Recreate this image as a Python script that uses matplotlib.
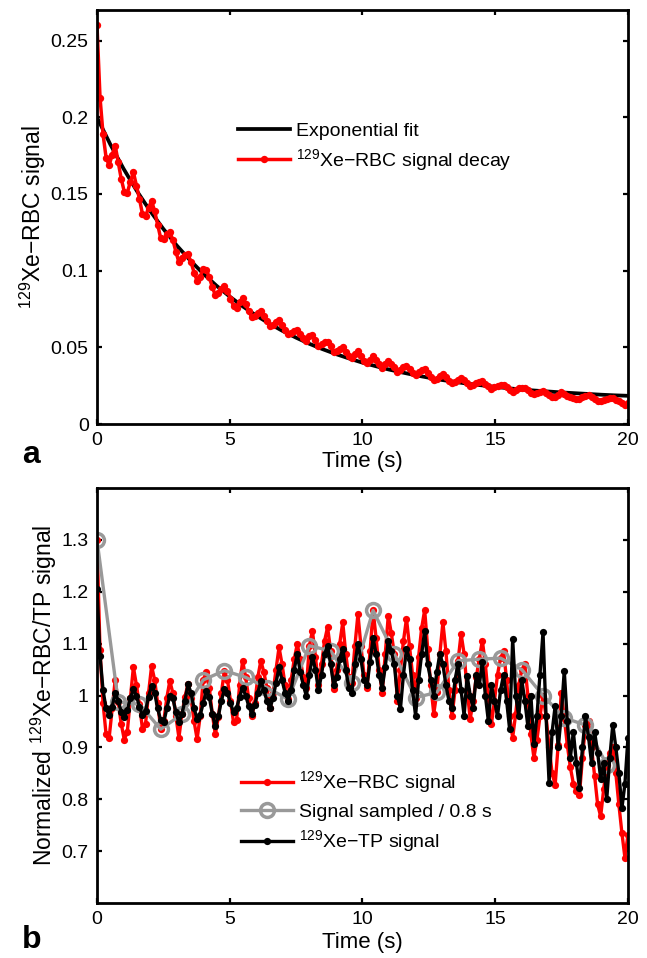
import numpy as np
import matplotlib
matplotlib.use("Agg")
import matplotlib.pyplot as plt

plt.rcParams['font.family'] = ['Liberation Sans', 'DejaVu Sans']
plt.rcParams['mathtext.fontset'] = 'custom'
plt.rcParams['mathtext.rm'] = 'Liberation Sans'
plt.rcParams['mathtext.it'] = 'Liberation Sans:italic'
plt.rcParams['mathtext.bf'] = 'Liberation Sans:bold'

# ---- data ----
# samples every 0.8/7 s (the grey curve keeps every 7th one -> 0.8 s)
dt = 0.8 / 7
n_samples = 176

# panel a: raw 129Xe-RBC signal
rbc_signal = [
    0.2600, 0.2129, 0.1889, 0.1737, 0.1688, 0.1755, 0.1816,
    0.1706, 0.1598, 0.1515, 0.1508, 0.1581, 0.1642, 0.1555,
    0.1468, 0.1368, 0.1354, 0.1411, 0.1454, 0.1389, 0.1301,
    0.1211, 0.1205, 0.1237, 0.1253, 0.1201, 0.1124, 0.1055,
    0.1085, 0.1101, 0.1106, 0.1055, 0.0988, 0.0934, 0.0960,
    0.1011, 0.1006, 0.0958, 0.0894, 0.0840, 0.0854, 0.0879,
    0.0900, 0.0868, 0.0818, 0.0769, 0.0758, 0.0798, 0.0819,
    0.0780, 0.0736, 0.0698, 0.0703, 0.0725, 0.0735, 0.0707,
    0.0674, 0.0636, 0.0645, 0.0662, 0.0677, 0.0645, 0.0610,
    0.0584, 0.0596, 0.0609, 0.0615, 0.0589, 0.0560, 0.0540,
    0.0574, 0.0579, 0.0545, 0.0509, 0.0520, 0.0534, 0.0538,
    0.0509, 0.0467, 0.0477, 0.0492, 0.0503, 0.0469, 0.0442,
    0.0432, 0.0455, 0.0473, 0.0442, 0.0413, 0.0398, 0.0419,
    0.0444, 0.0417, 0.0389, 0.0368, 0.0390, 0.0411, 0.0394,
    0.0375, 0.0339, 0.0355, 0.0369, 0.0378, 0.0357, 0.0335,
    0.0317, 0.0338, 0.0351, 0.0357, 0.0330, 0.0306, 0.0286,
    0.0295, 0.0313, 0.0327, 0.0308, 0.0283, 0.0266, 0.0277,
    0.0290, 0.0301, 0.0288, 0.0266, 0.0249, 0.0256, 0.0265,
    0.0272, 0.0278, 0.0264, 0.0246, 0.0231, 0.0240, 0.0250,
    0.0256, 0.0257, 0.0242, 0.0223, 0.0212, 0.0221, 0.0232,
    0.0237, 0.0237, 0.0222, 0.0204, 0.0193, 0.0199, 0.0207,
    0.0214, 0.0204, 0.0190, 0.0179, 0.0173, 0.0188, 0.0207,
    0.0196, 0.0184, 0.0174, 0.0167, 0.0163, 0.0161, 0.0174,
    0.0185, 0.0186, 0.0175, 0.0164, 0.0152, 0.0147, 0.0156,
    0.0165, 0.0168, 0.0169, 0.0159, 0.0147, 0.0136, 0.0127,
    0.0135,
]

fit_time = [0.0, 0.5, 1.0, 1.5, 2.0, 2.5, 3.0, 3.5, 4.0, 4.5, 5.0, 5.5, 6.0, 6.5,
            7.0, 7.5, 8.0, 8.5, 9.0, 9.5, 10.0, 10.5, 11.0, 11.5, 12.0, 12.5,
            13.0, 13.5, 14.0, 14.5, 15.0, 15.5, 16.0, 16.5, 17.0, 17.5, 18.0,
            18.5, 19.0, 19.5, 20.0]
fit_values = [0.2000, 0.1824, 0.1665, 0.1520, 0.1390, 0.1272, 0.1165, 0.1069,
              0.0981, 0.0902, 0.0831, 0.0766, 0.0707, 0.0654, 0.0606, 0.0563,
              0.0523, 0.0488, 0.0456, 0.0427, 0.0400, 0.0377, 0.0355, 0.0336,
              0.0318, 0.0302, 0.0287, 0.0274, 0.0262, 0.0252, 0.0242, 0.0233,
              0.0225, 0.0218, 0.0212, 0.0206, 0.0201, 0.0196, 0.0191, 0.0187,
              0.0184]

# panel b: normalized signals
rbc_norm = [
    1.300, 1.087, 0.985, 0.925, 0.918, 0.975, 1.030,
    0.988, 0.945, 0.915, 0.930, 0.995, 1.055, 1.020,
    0.983, 0.935, 0.945, 1.005, 1.057, 1.030, 0.985,
    0.935, 0.950, 0.995, 1.028, 1.005, 0.960, 0.919,
    0.964, 0.998, 1.022, 0.995, 0.950, 0.916, 0.960,
    1.030, 1.045, 1.015, 0.965, 0.925, 0.958, 1.005,
    1.048, 1.030, 0.990, 0.948, 0.952, 1.020, 1.067,
    1.035, 0.995, 0.960, 0.985, 1.035, 1.067, 1.045,
    1.015, 0.975, 1.005, 1.050, 1.093, 1.060, 1.020,
    0.993, 1.030, 1.070, 1.099, 1.070, 1.035, 1.015,
    1.096, 1.125, 1.075, 1.020, 1.060, 1.105, 1.132,
    1.086, 1.012, 1.050, 1.100, 1.141, 1.080, 1.035,
    1.025, 1.095, 1.157, 1.095, 1.040, 1.015, 1.085,
    1.164, 1.110, 1.050, 1.005, 1.080, 1.154, 1.120,
    1.080, 0.990, 1.050, 1.105, 1.148, 1.095, 1.040,
    0.996, 1.075, 1.130, 1.165, 1.090, 1.020, 0.965,
    1.006, 1.080, 1.141, 1.085, 1.010, 0.960, 1.010,
    1.067, 1.119, 1.080, 1.010, 0.955, 0.990, 1.035,
    1.070, 1.106, 1.060, 0.995, 0.945, 0.990, 1.040,
    1.072, 1.085, 1.030, 0.960, 0.919, 0.965, 1.020,
    1.050, 1.060, 1.000, 0.925, 0.880, 0.915, 0.960,
    1.000, 0.960, 0.900, 0.850, 0.828, 0.905, 1.005,
    0.957, 0.905, 0.862, 0.830, 0.815, 0.809, 0.880,
    0.943, 0.950, 0.900, 0.845, 0.790, 0.767, 0.820,
    0.867, 0.890, 0.900, 0.850, 0.790, 0.735, 0.687,
    0.732,
]

sampled_norm = [1.300, 0.988, 0.983, 0.935, 0.964, 1.030, 1.048, 1.035, 1.015,
                0.993, 1.096, 1.086, 1.025, 1.164, 1.080, 0.996, 1.006, 1.067,
                1.070, 1.072, 1.050, 1.000, 0.957, 0.943, 0.867]

tp_norm = [
    1.206, 1.077, 1.010, 0.975, 0.962, 0.978, 1.005,
    0.990, 0.968, 0.958, 0.972, 0.995, 1.012, 1.000,
    0.978, 0.962, 0.970, 0.998, 1.019, 1.005, 0.975,
    0.952, 0.948, 0.975, 1.000, 0.995, 0.968, 0.948,
    0.965, 0.990, 1.022, 1.005, 0.975, 0.955, 0.962,
    0.985, 1.009, 0.998, 0.965, 0.941, 0.960, 0.990,
    1.012, 1.005, 0.985, 0.968, 0.975, 0.998, 1.015,
    1.000, 0.980, 0.965, 0.982, 1.005, 1.028, 1.010,
    0.990, 0.975, 0.995, 1.025, 1.054, 1.030, 1.005,
    0.990, 1.010, 1.050, 1.080, 1.045, 1.020, 0.999,
    1.040, 1.075, 1.050, 1.010, 1.040, 1.080, 1.095,
    1.060, 1.020, 1.035, 1.070, 1.090, 1.050, 1.015,
    1.005, 1.060, 1.100, 1.070, 1.030, 1.020, 1.065,
    1.110, 1.080, 1.040, 1.015, 1.055, 1.106, 1.085,
    1.060, 1.000, 0.974, 1.040, 1.090, 1.070, 1.010,
    0.961, 1.030, 1.080, 1.125, 1.060, 1.030, 1.000,
    1.045, 1.080, 1.060, 1.020, 0.990, 0.975, 1.030,
    1.061, 1.010, 0.961, 1.038, 1.000, 0.975, 1.040,
    1.020, 1.065, 1.000, 0.950, 1.020, 0.990, 0.960,
    1.010, 1.040, 0.990, 0.935, 1.109, 1.000, 0.960,
    1.030, 0.990, 0.941, 1.000, 0.906, 0.960, 1.040,
    1.122, 0.960, 0.832, 0.930, 0.980, 0.900, 0.960,
    1.048, 0.950, 0.880, 0.930, 0.870, 0.822, 0.900,
    0.960, 0.920, 0.870, 0.930, 0.890, 0.840, 0.870,
    0.800, 0.880, 0.944, 0.900, 0.850, 0.783, 0.830,
    0.919,
]

x_ticks = [0, 5, 10, 15, 20]
a_yticks = [0, 0.05, 0.1, 0.15, 0.2, 0.25]
a_yticklabels = ['0', '0.05', '0.1', '0.15', '0.2', '0.25']
b_yticks = [0.7, 0.8, 0.9, 1.0, 1.1, 1.2, 1.3]
b_yticklabels = ['0.7', '0.8', '0.9', '1', '1.1', '1.2', '1.3']

time = np.arange(n_samples) * dt
sampled_time = time[0:7 * len(sampled_norm):7]

RED = '#ff0000'
GREY = '#999999'


def style_axes(ax):
    for s in ax.spines.values():
        s.set_linewidth(2.0)
    ax.tick_params(direction='in', length=3.5, width=1.6, top=True, right=True,
                   labelsize=14, pad=6)
    ax.set_xlim(0, 20)
    ax.set_xticks(x_ticks)
    ax.set_xticklabels([str(v) for v in x_ticks])


fig = plt.figure(figsize=(6.47, 9.58), dpi=100)
ax1 = fig.add_axes([0.1499, 0.5574, 0.8207, 0.4322])
ax2 = fig.add_axes([0.1499, 0.0574, 0.8207, 0.4332])

# ---- panel a ----
ax1.plot(fit_time, fit_values, color='black', lw=2.7, label='Exponential fit')
ax1.plot(time, rbc_signal, color=RED, lw=2.5, marker='o', ms=5.3, mew=0,
         label='$^{129}$Xe\u2212RBC signal decay')
style_axes(ax1)
ax1.set_ylim(0, 0.27)
ax1.set_yticks(a_yticks)
ax1.set_yticklabels(a_yticklabels)
ax1.set_xlabel('Time (s)', fontsize=16, va='top')
ax1.xaxis.set_label_coords(0.5, -0.066)
ax1.set_ylabel('$^{129}$Xe\u2212RBC signal', fontsize=16.5)
ax1.yaxis.set_label_coords(-0.092, 0.5)
ax1.legend(loc='upper left', bbox_to_anchor=(0.2655, 0.728), frameon=False,
           fontsize=14, handlelength=2.7, handletextpad=0.3, labelspacing=0.35,
           borderpad=0, borderaxespad=0)

# ---- panel b ----
ax2.plot(time, rbc_norm, color=RED, lw=2.4, marker='o', ms=5.2, mew=0,
         label='$^{129}$Xe\u2212RBC signal')
ax2.plot(sampled_time, sampled_norm, color=GREY, lw=2.4, marker='o', ms=10,
         mfc='none', mec=GREY, mew=2.5, label='Signal sampled / 0.8 s')
ax2.plot(time, tp_norm, color='black', lw=2.4, marker='o', ms=5.2, mew=0,
         label='$^{129}$Xe\u2212TP signal')
style_axes(ax2)
ax2.set_ylim(0.6, 1.4)
ax2.set_yticks(b_yticks)
ax2.set_yticklabels(b_yticklabels)
ax2.set_xlabel('Time (s)', fontsize=16, va='top')
ax2.xaxis.set_label_coords(0.5, -0.07)
ax2.set_ylabel('Normalized $^{129}$Xe\u2212RBC/TP signal', fontsize=16.5)
ax2.yaxis.set_label_coords(-0.072, 0.5)
ax2.legend(loc='upper left', bbox_to_anchor=(0.271, 0.322), frameon=False,
           fontsize=14, handlelength=2.7, handletextpad=0.3, labelspacing=0.4,
           borderpad=0, borderaxespad=0)

fig.text(0.034, 0.5167, 'a', fontsize=23, fontweight='bold', va='baseline')
fig.text(0.034, 0.003, 'b', fontsize=23, fontweight='bold', va='bottom')

fig.savefig('out.png', dpi=100)
